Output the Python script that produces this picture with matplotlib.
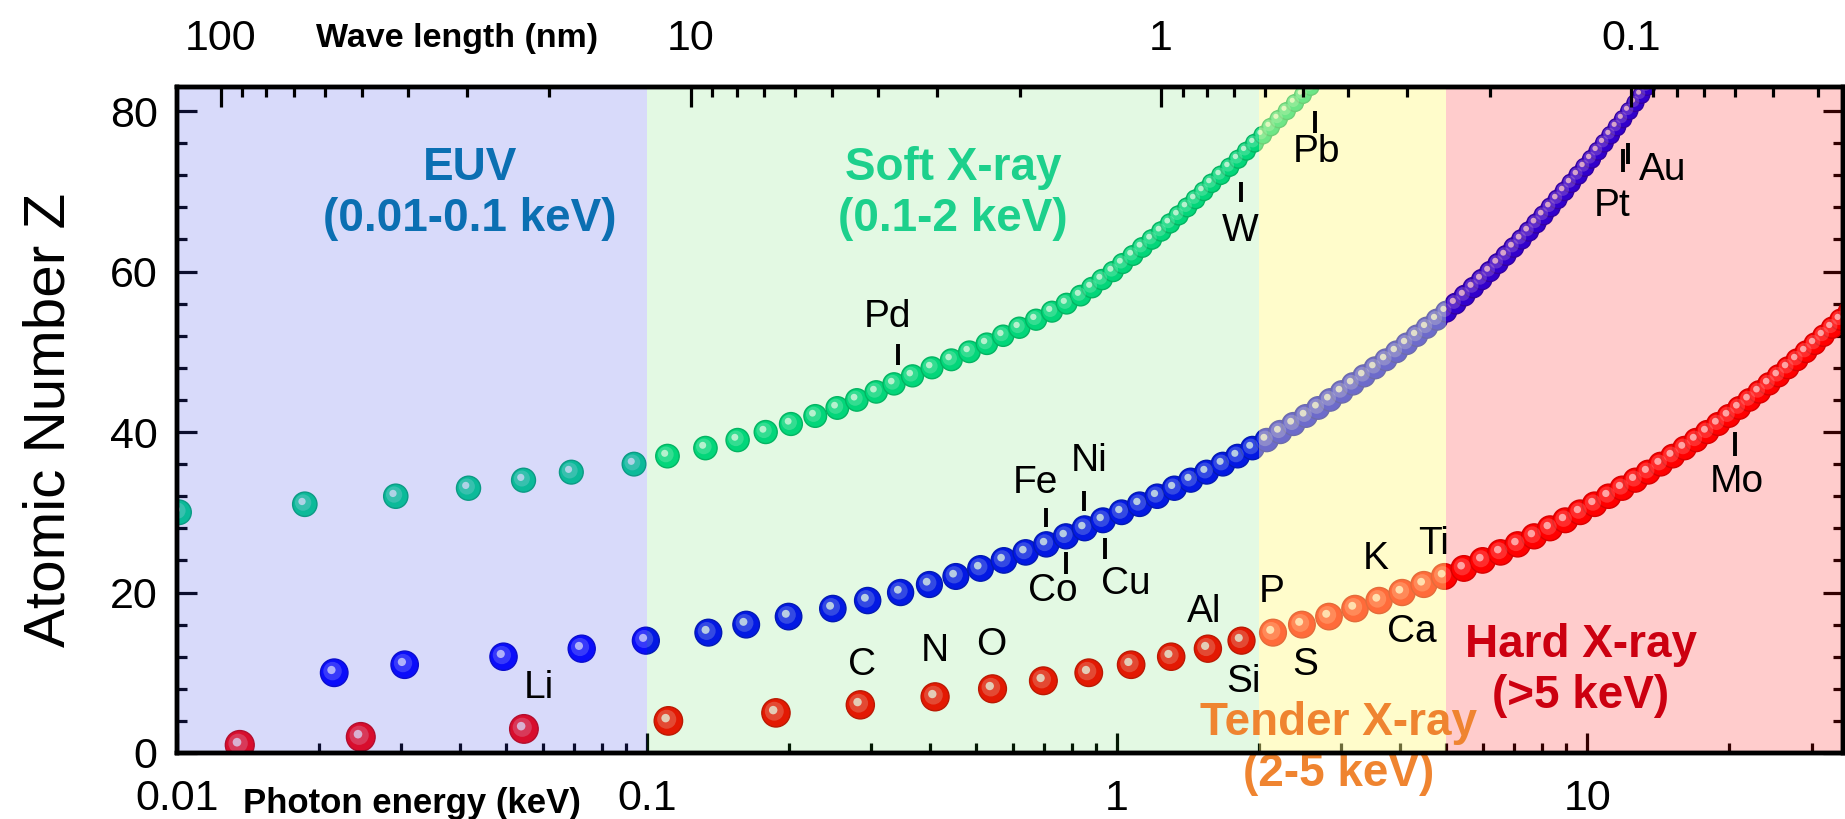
import numpy as np
import matplotlib
matplotlib.use('Agg')
import matplotlib.pyplot as plt
import matplotlib.transforms as mtransforms
from matplotlib.ticker import FixedLocator, NullFormatter, MultipleLocator, LogLocator

plt.rcParams['font.family'] = ['Liberation Sans', 'DejaVu Sans']

HC = 1.23984  # keV*nm, photon energy <-> wavelength

# K-shell edges (red), keV
k_z = list(range(1, 56))
k_edge = [0.0136, 0.0246, 0.0547, 0.111, 0.188, 0.2842, 0.4099, 0.5431, 0.6967, 0.8701,
          1.0708, 1.3030, 1.5596, 1.8389, 2.1455, 2.4720, 2.8224, 3.2060, 3.6074, 4.0381,
          4.4928, 4.9664, 5.4651, 5.9892, 6.5390, 7.1120, 7.7089, 8.3328, 8.9789, 9.6586,
          10.3671, 11.1031, 11.8667, 12.6578, 13.4737, 14.3256, 15.1997, 16.1046, 17.0384, 17.9976,
          18.9856, 19.9995, 21.0440, 22.1172, 23.2199, 24.3503, 25.5140, 26.7112, 27.9399, 29.2001,
          30.4912, 31.8138, 33.1694, 34.5614, 35.9846]

# L3 edges (blue), keV
l_z = list(range(10, 84))
l_edge = [0.0216, 0.0305, 0.0495, 0.0726, 0.0994, 0.135, 0.1625, 0.200, 0.2484, 0.2946,
          0.3462, 0.3987, 0.4538, 0.5121, 0.5741, 0.6387, 0.7068, 0.7781, 0.8527, 0.9327,
          1.0218, 1.1164, 1.2170, 1.3236, 1.4339, 1.5500, 1.6784, 1.804, 1.940, 2.080,
          2.2223, 2.371, 2.520, 2.677, 2.838, 3.004, 3.173, 3.351, 3.538, 3.730,
          3.929, 4.132, 4.341, 4.557, 4.786, 5.012, 5.247, 5.483, 5.723, 5.964,
          6.208, 6.459, 6.716, 6.977, 7.243, 7.514, 7.790, 8.071, 8.358, 8.648,
          8.944, 9.244, 9.561, 9.881, 10.207, 10.535, 10.871, 11.215, 11.564, 11.919,
          12.284, 12.658, 13.035, 13.419]

# M5 edges (green), keV
m_z = list(range(30, 84))
m_edge = [0.0101, 0.0187, 0.0292, 0.0417, 0.0546, 0.0690, 0.0938, 0.1105, 0.1331, 0.1558,
          0.1788, 0.2023, 0.2279, 0.2539, 0.2794, 0.3072, 0.3352, 0.3670, 0.4037, 0.4439,
          0.4849, 0.5282, 0.5721, 0.6193, 0.6723, 0.7266, 0.7805, 0.836, 0.8838, 0.9288,
          0.9804, 1.027, 1.0802, 1.1309, 1.1852, 1.2411, 1.2956, 1.3514, 1.4093, 1.4677,
          1.5278, 1.5885, 1.6617, 1.7351, 1.809, 1.883, 1.9601, 2.0404, 2.1216, 2.2057,
          2.2949, 2.3893, 2.484, 2.5796]

# spectral regions
band_lo = [0.01, 0.1, 2, 5]
band_hi = [0.1, 2, 5, 35]
band_titles = ['EUV\n(0.01-0.1 keV)', 'Soft X-ray\n(0.1-2 keV)',
               'Tender X-ray\n(2-5 keV)', 'Hard X-ray\n(>5 keV)']
band_title_x = [0.042, 0.448, 2.96, 9.7]
band_title_y = [69.7, 69.7, 0.6, 10.3]

# element labels with a marker line
tick_el = ['Fe', 'Co', 'Ni', 'Cu', 'Pd', 'W', 'Pb', 'Pt', 'Au', 'Mo']
tick_x = [0.706, 0.78, 0.85, 0.94, 0.341, 1.83, 2.63, 11.9, 12.2, 20.6]
tick_y0 = [28.2, 22.3, 30.2, 24.2, 48.4, 68.7, 77.3, 72.4, 73.4, 37.0]
tick_y1 = [30.5, 25.0, 32.6, 26.8, 51.0, 71.2, 80.0, 75.3, 76.0, 40.0]
tick_lx = [0.67, 0.728, 0.871, 1.045, 0.324, 1.83, 2.66, 11.3, 14.5, 20.8]
tick_ly = [33.7, 20.2, 36.4, 21.0, 54.3, 65.0, 74.9, 68.2, 72.6, 33.8]

# element labels without a line
free_el = ['Li', 'C', 'N', 'O', 'Al', 'Si', 'P', 'S', 'K', 'Ca', 'Ti']
free_x = [0.0589, 0.286, 0.409, 0.54, 1.53, 1.86, 2.13, 2.51, 3.55, 4.24, 4.70]
free_y = [8.1, 11.0, 12.7, 13.5, 17.6, 8.8, 20.1, 11.0, 24.2, 15.1, 26.0]

fig = plt.figure(figsize=(18.45, 8.19), dpi=100)
ax = fig.add_axes([177 / 1845, 66 / 819, 1666 / 1845, 666 / 819])
ax.set_xscale('log')
ax.set_xlim(0.01, 35)
ax.set_ylim(0, 83)


def spheres(x, z, color, edge):
    z = np.asarray(z, dtype=float)
    d = 29 - 0.15 * z
    s = (d * 0.72) ** 2
    ax.scatter(x, z, s=s, c=color, edgecolors=edge, lw=1.0, zorder=2)
    t1 = mtransforms.offset_copy(ax.transData, fig=fig, x=-1.2, y=1.2, units='points')
    ax.scatter(x, z, s=s * 0.45, c='white', alpha=0.22, lw=0, transform=t1, zorder=2.1)
    t2 = mtransforms.offset_copy(ax.transData, fig=fig, x=-2.0, y=2.0, units='points')
    ax.scatter(x, z, s=s * 0.09, c='white', alpha=0.75, lw=0, transform=t2, zorder=2.2)


spheres(k_edge, k_z, '#ff0000', '#d00000')
spheres(l_edge, l_z, '#0000ff', '#0000c8')
spheres(m_edge, m_z, '#00d787', '#00b06c')

# translucent bands laid over the spheres
band_col = ['#3c46e6', '#1ed21e', '#fffa88', '#ff0000']
band_alpha = [0.2, 0.12, 0.43, 0.2]
for lo, hi, c, a in zip(band_lo, band_hi, band_col, band_alpha):
    ax.axvspan(lo, hi, color=c, alpha=a, lw=0, zorder=3)

title_col = ['#0b6fb2', '#1dd08c', '#ef8430', '#cc0010']
for t, x, y, c in zip(band_titles, band_title_x, band_title_y, title_col):
    ax.text(x, y, t, color=c, fontsize=33, fontweight='bold', ha='center', va='center',
            linespacing=1.2, zorder=6, clip_on=False)

ax.vlines(tick_x, tick_y0, tick_y1, color='black', lw=2.8, zorder=5)
for el, x, y in zip(tick_el, tick_lx, tick_ly):
    ax.text(x, y, el, fontsize=28, ha='center', va='center', zorder=5)
for el, x, y in zip(free_el, free_x, free_y):
    ax.text(x, y, el, fontsize=28, ha='center', va='center', zorder=5)

# axes styling
for sp in ax.spines.values():
    sp.set_linewidth(3.2)
    sp.set_zorder(10)
ax.set_xticks([0.01, 0.1, 1, 10])
ax.set_xticklabels(['0.01', '0.1', '1', '10'])
ax.xaxis.set_minor_locator(LogLocator(base=10, subs=np.arange(2, 10)))
ax.xaxis.set_minor_formatter(NullFormatter())
ax.set_yticks([0, 20, 40, 60, 80])
ax.yaxis.set_minor_locator(MultipleLocator(4))
ax.tick_params(axis='both', which='both', direction='in', labelsize=31, width=2.3,
               top=False, right=True, zorder=10)
ax.tick_params(which='major', length=14.5)
ax.tick_params(which='minor', length=7.2)
ax.tick_params(axis='x', pad=19)
ax.tick_params(axis='y', pad=14)
ax.set_ylabel('Atomic Number Z', fontsize=42, labelpad=24)

ax2 = ax.twiny()
ax2.set_xscale('log')
ax2.set_xlim(ax.get_xlim())
wl_major = [100, 10, 1, 0.1]
wl_minor = [k * 10.0 ** n for n in range(-2, 3) for k in range(2, 10)]
ax2.set_xticks([HC / w for w in wl_major])
ax2.set_xticklabels(['100', '10', '1', '0.1'])
ax2.xaxis.set_minor_locator(FixedLocator([HC / w for w in wl_minor]))
ax2.xaxis.set_minor_formatter(NullFormatter())
ax2.tick_params(axis='x', which='both', direction='in', labelsize=31, width=2.3, pad=20)
ax2.tick_params(which='major', length=14.5)
ax2.tick_params(which='minor', length=7.2)
for sp in ax2.spines.values():
    sp.set_linewidth(3.2)

fig.text(457 / 1845, 1 - 39 / 819, 'Wave length (nm)', fontsize=24.5, fontweight='bold',
         ha='center', va='center')
fig.text(412 / 1845, 1 - 804 / 819, 'Photon energy (keV)', fontsize=25, fontweight='bold',
         ha='center', va='center')

fig.savefig('out.png', dpi=100)
